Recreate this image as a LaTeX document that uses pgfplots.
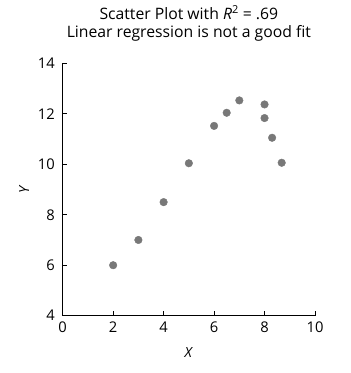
\documentclass[border=0pt]{standalone}
\usepackage{pgfplots}
\pgfplotsset{compat=1.18}
\usepackage{fontspec}
\setmainfont{Open Sans}
\begin{document}
\begin{tikzpicture}[x=1bp,y=1bp]
\path[use as bounding box] (-62.7,-57.3) rectangle (288.3,315.7);
\begin{axis}[
  at={(0,0)}, anchor=south west,
  scale only axis, width=252.3bp, height=252.4bp,
  xmin=0, xmax=10, ymin=4, ymax=14,
  xtick={0,2,4,6,8,10}, ytick={4,6,8,10,12,14},
  axis x line*=bottom, axis y line*=left,
  axis line style={line width=1.1pt, -},
  tick style={line width=0.9pt, black},
  tick align=inside, major tick length=4.5bp,
  /pgf/number format/assume math mode=true,
  tick label style={font=\fontsize{14.8}{17}\selectfont, inner sep=0pt},
  xticklabel style={anchor=center, yshift=-11.5bp},
  yticklabel style={anchor=east, xshift=-7.7bp},
  title={Scatter Plot with \textit{R}\textsuperscript{\fontsize{11}{11}\selectfont 2} = .69\\Linear regression is not a good fit},
  title style={align=center, font=\fontsize{15.8}{19}\selectfont, at={(axis description cs:0.5,1.1327)}, anchor=center, yshift=0pt},
  xlabel={\textit{X}}, ylabel={\textit{Y}},
  label style={font=\fontsize{14}{16}\selectfont},
  xlabel style={at={(axis description cs:0.5,-0.1446)}, anchor=center, yshift=0pt},
  ylabel style={at={(axis description cs:-0.1530,0.5)}, anchor=center, xshift=0pt, yshift=0pt},
  clip=false,
]
\addplot[only marks, mark=*, mark size=3.8bp, mark options={draw=black!53, fill=black!53}] coordinates {
(2,6.0) (3,7.0) (4,8.5) (5,10.04) (6,11.52) (6.5,12.04) (7,12.53) (8,12.37) (8,11.83) (8.3,11.05) (8.68,10.06)
};
\end{axis}
\end{tikzpicture}
\end{document}
